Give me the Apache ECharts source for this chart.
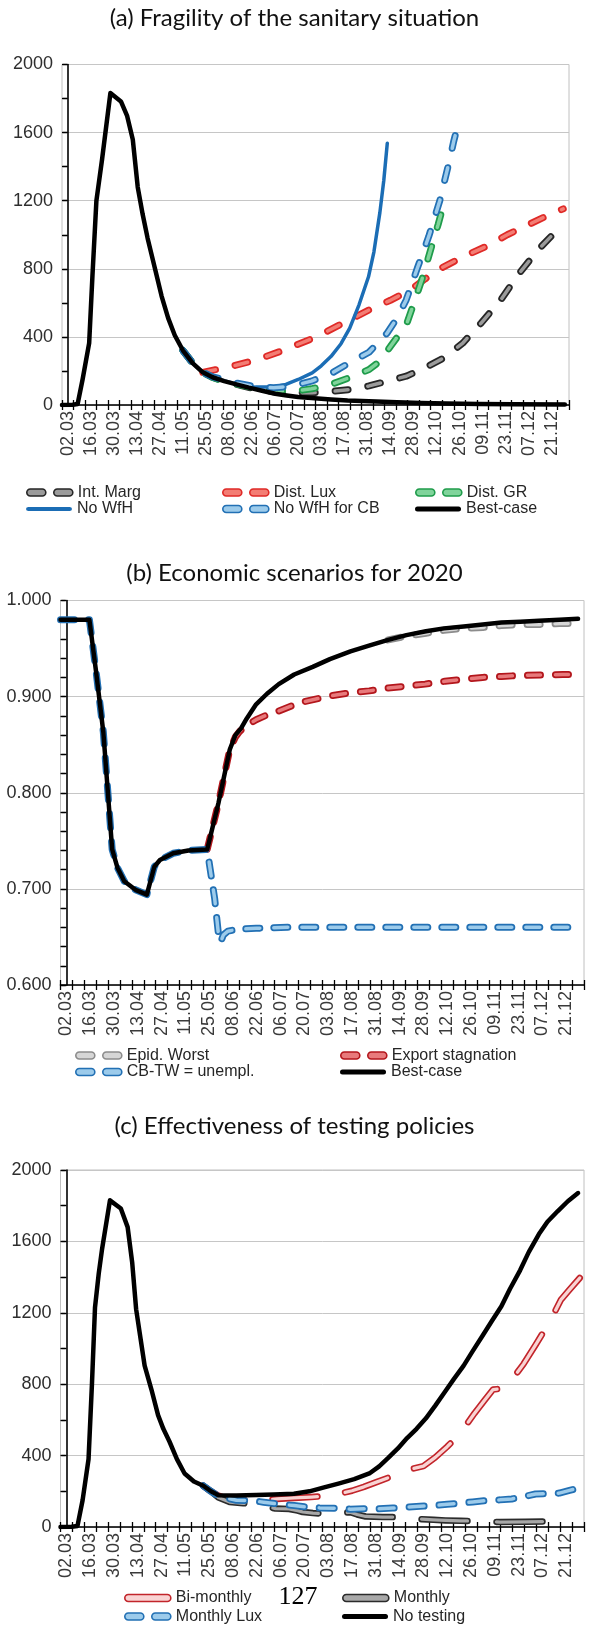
<!DOCTYPE html>
<html>
<head>
<meta charset="utf-8">
<title>Scenario simulations 2020</title>
<script src="https://cdn.jsdelivr.net/npm/echarts@6.0.0/dist/echarts.min.js"></script>
<style>
  html, body { margin: 0; padding: 0; background: #ffffff; }
  #chart { width: 589px; height: 1630px; }
</style>
</head>
<body>
<div id="chart"></div>
<script>
// Week starts (Mondays of 2020) on the time axis; every other one is labelled
const weeks = ['02.03','09.03','16.03','23.03','30.03','06.04','13.04','20.04','27.04','04.05',
  '11.05','18.05','25.05','01.06','08.06','15.06','22.06','29.06','06.07','13.07','20.07','27.07',
  '03.08','10.08','17.08','24.08','31.08','07.09','14.09','21.09','28.09','05.10','12.10','19.10',
  '26.10','02.11','09.11','16.11','23.11','30.11','07.12','14.12','21.12','28.12'];

const panelTitles = [
  '(a) Fragility of the sanitary situation',
  '(b) Economic scenarios for 2020',
  '(c) Effectiveness of testing policies'
];

// Points are [day, value], days counted from 02.03

// (a) sanitary situation
const aIntMarg = [[70,320],[76,245],[82,192],[88,163],[95,140],[105,115],[115,92],[125,78],[137,71],
  [148.5,72],[160,80],[171.3,91],[183,112],[194,140],[205.6,169],[217,218],[228.4,276],[240,364],
  [251,480],[263,617],[274,770],[286,915],[299,1044],[302,1065]];
const aDistLux = [[82,192],[100,228],[115,266],[130,318],[151,400],[165,470],[183,558],[196,615],
  [208,675],[217,740],[226,800],[240,870],[255,935],[267,1000],[280,1060],[292,1115],[301,1152]];
const aDistGR = [[70,320],[76,245],[82,192],[88,162],[95,140],[105,118],[115,98],[125,85],[137,80],
  [148,95],[160,121],[171,160],[183,208],[190,260],[196,344],[201,410],[206,480],[210,590],[215,733],
  [218,830],[221.5,947],[225,1060],[228.4,1181],[231,1225]];
const aNoWfH = [[70,320],[76,245],[82,192],[90,155],[100,130],[108,112],[114,105],[125,106],[132.5,121],
  [140,150],[148.5,189],[154,230],[160,286],[166,360],[171.3,451],[177,590],[182.7,753],[186,900],
  [189.6,1130],[192,1320],[194.1,1537]];
const aNoWfHCB = [[70,320],[76,245],[82,192],[88,165],[95,148],[103,128],[114,108],[125,101],[136,110],
  [148,140],[160,185],[171,247],[183,310],[194,422],[200,510],[205.6,617],[209,710],[212.4,805],
  [216,900],[219.3,990],[222.5,1090],[226,1200],[229,1320],[232,1440],[234.5,1550],[237.5,1665]];
const aBestCase = [[-3.5,0],[3,1],[6,6],[9,150],[13,364],[15,760],[17.4,1200],[20.8,1440],
  [25.9,1832],[32.3,1783],[36,1700],[39.5,1560],[42.5,1280],[45.5,1120],[48.5,980],[53,800],[57,640],
  [61,510],[65,410],[70,320],[76,245],[82,192],[88,163],[95,140],[103,120],[110,102],[118,84],
  [126,66],[133,56],[140,47],[150,39],[160,33],[170,27],[183,22],[200,16],[215,12],[230,9],
  [250,6],[270,5],[302,3]];

// (b) economic scenarios: lockdown path shared by the scenarios until the end of May
const bLockdown = [[-3.5,0.980],[13.5,0.980],[17.5,0.925],[21.7,0.863],[24,0.809],[26.9,0.741],
  [30,0.722],[34,0.708],[40.6,0.699],[47.3,0.694],[51.7,0.723],[55,0.730],[62.8,0.737],
  [71.7,0.740],[82.8,0.741]];
const bEpidWorst = [[189.3,0.959],[200,0.963],[211.5,0.966],[222,0.969],[233.7,0.971],[245,0.972],
  [255.9,0.974],[267,0.975],[278,0.975],[290,0.976],[301,0.976]];
const bExportStag = [[82.8,0.741],[89.4,0.789],[96.1,0.845],[99.4,0.858],[102,0.864],[106,0.870],
  [111.6,0.876],[118,0.881],[124.9,0.885],[132,0.890],[140.5,0.895],[148,0.898],[156,0.901],
  [167,0.904],[178.2,0.906],[189,0.909],[200.4,0.911],[211,0.913],[222.6,0.916],[233.7,0.918],
  [244.8,0.920],[256,0.921],[266.9,0.922],[280,0.9225],[292,0.923],[301,0.923]];
const bCBTWTail = [[84,0.727],[87.2,0.690],[89.6,0.650],[90.8,0.645],[92.3,0.652],[95,0.656],
  [100.5,0.658],[111.6,0.659],[130,0.660],[302,0.660]];
const bBestTail = [[89.4,0.789],[96.1,0.845],[99.4,0.860],[102.7,0.867],[106,0.877],[111.6,0.892],
  [118,0.903],[124.9,0.913],[134,0.923],[144.9,0.931],[155,0.939],[167.1,0.947],[178,0.953],
  [189.3,0.959],[200,0.964],[211.5,0.968],[222,0.971],[233.7,0.973],[245,0.975],[255.9,0.977],
  [267,0.978],[278,0.979],[290,0.980],[301,0.981]];

// (c) testing policies
const cBiMonthly = [[80.5,231],[85,200],[89.4,176],[96,152],[105,150],[115,152],[124,157],[134,163],
  [144,168],[154,175],[161,188],[168,203],[175,225],[182,250],[189,275],[196,305],[203,325],[210,341],
  [217,390],[224,450],[231,516],[240,636],[246,710],[251,770],[256,775],[260,793],[264,850],[269,914],
  [276,1020],[284,1145],[291,1274],[296,1330],[302,1395]];
const cMonthly = [[80.5,231],[85,200],[89.4,165],[96,140],[104,133],[110,130],[116,118],[123,103],
  [131,101],[136,92],[139,84],[145,78],[152,74],[160,76],[167,83],[171,70],[176,59],[186,56],[197,55],
  [203,48],[209,44],[216,40],[223,37],[232,35],[241,33],[248,30],[255,28],[270,29],[287,31]];
const cMonthlyLux = [[80.5,231],[85,200],[89,175],[95,160],[100,150],[109,148],[116,139],[125,128],
  [134,120],[141,112],[149,107],[158,105],[167,100],[175,102],[183,102],[192,106],[200,111],[208,116],
  [216,120],[224,127],[231,133],[239,140],[247,148],[255,152],[262,157],[269,170],[276,185],[283,186],
  [290,190],[296,205],[302,220]];
const cNoTesting = [[-3.5,0],[3,1],[6.5,6],[9.5,150],[13,380],[15,800],[16.8,1230],[19,1420],[21,1560],
  [25.6,1830],[32,1784],[36,1680],[38.7,1480],[41,1220],[46,904],[50,770],[53.9,627],[57,550],
  [60.6,479],[65,380],[69.5,300],[75,255],[80.5,231],[85,200],[89.4,178],[100,176],[111.6,179],
  [122,182],[133.8,186],[143,200],[151.6,222],[160,243],[169.3,268],[178.2,300],[184,340],[189.3,387],
  [195,440],[200.4,498],[206,550],[211.5,609],[217,680],[222.6,756],[228,830],[233.7,904],[239,985],
  [244.8,1071],[250,1150],[255.9,1237],[261,1335],[266.9,1438],[272,1540],[278,1641],[283,1710],
  [289.1,1770],[295,1825],[301,1871]];

const pageNumber = '127';

// ---------------------------------------------------------------- layout
const DAY_MIN = -3.5, DAY_MAX = 304.5;          // half a week around the first and last week
const SANS = '"Liberation Sans", Arial, sans-serif';
const INK = '#000000';

const panels = [
  { left: 62,   top: 64.5,  width: 507,   height: 340.5, titleTop: 5.5,
    y: { min: 0,   max: 2000, interval: 400, minor: 2, dec: 0 } },
  { left: 60.5, top: 600.5, width: 523.5, height: 384.5, titleTop: 561,
    y: { min: 0.6, max: 1.0,  interval: 0.1, minor: 5, dec: 3 } },
  { left: 60.5, top: 1170,  width: 523.5, height: 357,   titleTop: 1114,
    y: { min: 0,   max: 2000, interval: 400, minor: 2, dec: 0 } }
];

const xAxis = [], yAxis = [];
panels.forEach((p, k) => {
  const tick = { color: INK, width: 1.3 };
  // labelled week axis, ticks outside
  xAxis.push({
    type: 'category', gridIndex: k, position: 'bottom', data: weeks, boundaryGap: true,
    axisLine: { show: true, onZero: false, lineStyle: { color: INK, width: 1.6 } },
    axisTick: { show: true, interval: 0, length: 5, lineStyle: tick },
    axisLabel: { interval: 1, rotate: 90, margin: 6, fontSize: 18, fontFamily: SANS, color: '#3a3a3a' },
    splitLine: { show: false }
  });
  // same ticks on the inner side, so they cross the axis line
  xAxis.push({
    type: 'category', gridIndex: k, position: 'bottom', data: weeks, boundaryGap: true,
    axisLine: { show: false, onZero: false },
    axisTick: { show: true, inside: true, interval: 0, length: 5, lineStyle: tick },
    axisLabel: { show: false }, splitLine: { show: false }
  });
  // day scale the series are plotted on
  xAxis.push({ type: 'value', gridIndex: k, position: 'bottom', min: DAY_MIN, max: DAY_MAX, show: false });

  const ys = p.y;
  yAxis.push({
    type: 'value', gridIndex: k, position: 'left', min: ys.min, max: ys.max, interval: ys.interval,
    axisLine: { show: true, lineStyle: { color: INK, width: 1.6 } },
    axisTick: { show: true, length: 5, lineStyle: tick },
    minorTick: { show: true, splitNumber: ys.minor, length: 5, lineStyle: tick },
    splitLine: { show: true, lineStyle: { color: '#c6c6c6', width: 1 } },
    minorSplitLine: { show: false },
    axisLabel: { margin: 9, fontSize: 18, fontFamily: SANS, color: '#2e2e2e',
      formatter: v => v.toFixed(ys.dec) }
  });
  yAxis.push({
    type: 'value', gridIndex: k, position: 'left', min: ys.min, max: ys.max, interval: ys.interval,
    axisLine: { show: false },
    axisTick: { show: true, inside: true, length: 5, lineStyle: tick },
    minorTick: { show: true, splitNumber: ys.minor, length: 5, lineStyle: tick },
    splitLine: { show: false }, axisLabel: { show: false }
  });
});

// ---------------------------------------------------------------- series
function lineSeries(name, k, data, color, width, dash) {
  return {
    type: 'line', name: name, data: data,
    xAxisIndex: 3 * k + 2, yAxisIndex: 2 * k,
    symbol: 'none', showSymbol: false, silent: true, animation: false,
    lineStyle: { color: color, width: width, type: dash || 'solid', cap: 'round', join: 'round' }
  };
}
// outlined dashes: a wide dark stroke under a narrow light one with the same dash pattern
function outlined(name, k, data, outer, inner, dash, w) {
  w = w || 7;
  return [lineSeries(name, k, data, outer, w, dash), lineSeries(name, k, data, inner, w / 2, dash)];
}

const C = {
  marg:  ['#262626', '#9b9b9b'],
  lux:   ['#df2a27', '#f37d74'],
  gr:    ['#1f9c4b', '#80d49b'],
  wfh:   '#1b6db5',
  cb:    ['#2270b4', '#9ccbeb'],
  worst: ['#8c8c8c', '#d6d6d6'],
  exp:   ['#b3161c', '#e87a7c'],
  bi:    ['#c2252b', '#f9d3d3'],
  mon:   ['#2b2b2b', '#a8a8a8']
};

const series = [].concat(
  outlined('Int. Marg', 0, aIntMarg, C.marg[0], C.marg[1], [13, 20]),
  outlined('Dist. Lux', 0, aDistLux, C.lux[0], C.lux[1], [13, 20]),
  outlined('Dist. GR', 0, aDistGR, C.gr[0], C.gr[1], [13, 20]),
  [lineSeries('No WfH', 0, aNoWfH, C.wfh, 3.5)],
  outlined('No WfH for CB', 0, aNoWfHCB, C.cb[0], C.cb[1], [13, 20]),
  [lineSeries('Best-case', 0, aBestCase, INK, 4.5)],

  outlined('Epid. Worst', 1, bEpidWorst, C.worst[0], C.worst[1], [13, 15]),
  outlined('Export stagnation', 1, bExportStag, C.exp[0], C.exp[1], [13, 15]),
  outlined('CB-TW = unempl.', 1, bLockdown.concat(bCBTWTail), C.cb[0], C.cb[1], [14, 14]),
  [lineSeries('Best-case', 1, bLockdown.concat(bBestTail), INK, 4.5)],

  outlined('Bi-monthly', 2, cBiMonthly, C.bi[0], C.bi[1], [45, 28], 6.5),
  outlined('Monthly', 2, cMonthly, C.mon[0], C.mon[1], [46, 29], 6.5),
  outlined('Monthly Lux', 2, cMonthlyLux, C.cb[0], C.cb[1], [15, 15]),
  [lineSeries('No testing', 2, cNoTesting, INK, 4.5)]
);

// ---------------------------------------------------------------- legends
const ICON_TWO = 'path://M3.5,0H15.5A3.5,3.5,0,0,1,15.5,7H3.5A3.5,3.5,0,0,1,3.5,0Z' +
                 'M30.5,0H42.5A3.5,3.5,0,0,1,42.5,7H30.5A3.5,3.5,0,0,1,30.5,0Z';
const ICON_ONE = 'path://M3.5,0H42.5A3.5,3.5,0,0,1,42.5,7H3.5A3.5,3.5,0,0,1,3.5,0Z';
const ICON_BAR = 'path://M2.5,0H43.5A2.5,2.5,0,0,1,43.5,5H2.5A2.5,2.5,0,0,1,2.5,0Z';

function legendItem(name, left, midY, icon, h, fill, stroke) {
  return {
    left: left, top: midY - 8, padding: 0, orient: 'horizontal', selectedMode: false,
    itemWidth: 46, itemHeight: h, symbolKeepAspect: false,
    textStyle: { fontFamily: SANS, fontSize: 16, lineHeight: 16, color: '#262626' },
    data: [{ name: name, icon: icon,
      itemStyle: { color: fill, borderColor: stroke || fill, borderWidth: stroke ? 1.6 : 0 } }]
  };
}

const legend = [
  legendItem('Int. Marg',      26, 492.5, ICON_TWO, 7, C.marg[1], C.marg[0]),
  legendItem('Dist. Lux',     222, 492.5, ICON_TWO, 7, C.lux[1], C.lux[0]),
  legendItem('Dist. GR',      415, 492.5, ICON_TWO, 7, C.gr[1], C.gr[0]),
  legendItem('No WfH',         26, 509,   ICON_BAR, 4, C.wfh),
  legendItem('No WfH for CB', 222, 509,   ICON_TWO, 7, C.cb[1], C.cb[0]),
  legendItem('Best-case',     415, 509,   ICON_BAR, 5, INK),

  legendItem('Epid. Worst',        75, 1055.5, ICON_TWO, 7, C.worst[1], C.worst[0]),
  legendItem('Export stagnation', 340, 1055.5, ICON_TWO, 7, C.exp[1], C.exp[0]),
  legendItem('CB-TW = unempl.',    75, 1072,   ICON_TWO, 7, C.cb[1], C.cb[0]),
  legendItem('Best-case',         340, 1072,   ICON_BAR, 5, INK),

  legendItem('Bi-monthly',   124, 1598,   ICON_ONE, 7, C.bi[1], C.bi[0]),
  legendItem('Monthly',      342, 1598,   ICON_ONE, 7, C.mon[1], C.mon[0]),
  legendItem('Monthly Lux',  124, 1616.5, ICON_TWO, 7, C.cb[1], C.cb[0]),
  legendItem('No testing',   342, 1616.5, ICON_BAR, 5, INK)
];

const option = {
  animation: false,
  backgroundColor: '#ffffff',
  title: panelTitles.map((t, k) => ({
    text: t, left: 'center', top: panels[k].titleTop, padding: 0,
    textStyle: { fontFamily: 'Lato, "Noto Sans", sans-serif', fontSize: 24, fontWeight: 'normal',
                 color: '#111111', lineHeight: 25 }
  })),
  grid: panels.map(p => ({
    left: p.left, top: p.top, width: p.width, height: p.height,
    containLabel: false, outerBoundsMode: 'none',
    show: true, borderColor: '#c0c0c0', borderWidth: 1, backgroundColor: 'transparent'
  })),
  xAxis: xAxis,
  yAxis: yAxis,
  legend: legend,
  series: series,
  graphic: [{
    type: 'text', x: 298, y: 1597,
    style: { text: pageNumber, fontFamily: '"Liberation Serif", "DejaVu Serif", serif', fontSize: 26,
             fill: '#000000', align: 'center', verticalAlign: 'middle' }
  }]
};

const chart = echarts.init(document.getElementById('chart'), null, { renderer: 'canvas' });
chart.setOption(option);
</script>
</body>
</html>
